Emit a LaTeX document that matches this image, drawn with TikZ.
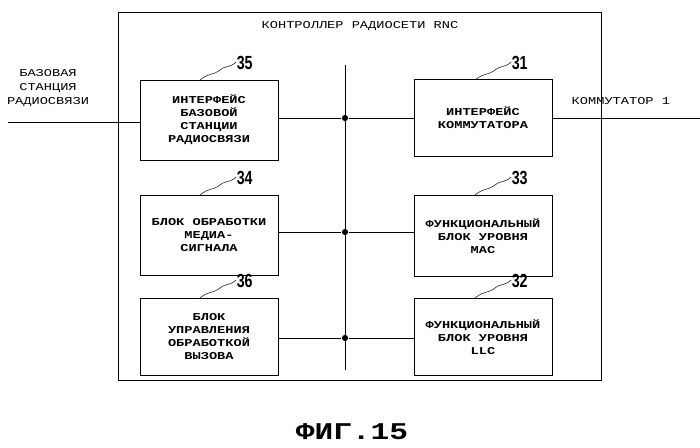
\documentclass[tikz,border=0pt]{standalone}
\usepackage{fontspec}
\setmainfont[FakeStretch=1.3]{Liberation Mono}
\newfontfamily\numfont{Liberation Sans}
\begin{document}
\begin{tikzpicture}[x=1pt, y=-1pt, line width=0.8pt,
    blok/.style={draw, minimum width=138pt, align=center, inner sep=1pt, font=\fontsize{10.5}{13}\selectfont\bfseries},
    bus/.style={circle, fill, inner sep=2.2pt},
    nomer/.style={font=\numfont\fontsize{19}{19}\selectfont\bfseries, anchor=west, xscale=0.75}]
    \useasboundingbox (0,0) rectangle (700,447);

    % Rahmen
    \draw (118,12) rectangle (601,380);
    \node[font=\fontsize{10.5}{13}\selectfont] (titel) at (360,26) {КОНТРОЛЛЕР РАДИОСЕТИ RNC};

    % Bloecke links / rechts
    \node[blok, minimum height=80pt] (b35) at (209,120) {ИНТЕРФЕЙС\\БАЗОВОЙ\\СТАНЦИИ\\РАДИОСВЯЗИ};
    \node[blok, minimum height=80pt] (b34) at (209,235) {БЛОК ОБРАБОТКИ\\МЕДИА-\\СИГНАЛА};
    \node[blok, minimum height=77pt] (b36) at (209,337) {БЛОК\\УПРАВЛЕНИЯ\\ОБРАБОТКОЙ\\ВЫЗОВА};
    \node[blok, minimum height=77pt] (b31) at (483,118) {ИНТЕРФЕЙС\\КОММУТАТОРА};
    \node[blok, minimum height=81pt] (b33) at (483,236) {ФУНКЦИОНАЛЬНЫЙ\\БЛОК УРОВНЯ\\MAC};
    \node[blok, minimum height=77pt] (b32) at (483,337) {ФУНКЦИОНАЛЬНЫЙ\\БЛОК УРОВНЯ\\LLC};

    % Bus
    \coordinate (oben) at (345,65);
    \coordinate (unten) at (345,370);
    \draw (oben) -- (unten);
    \foreach \l/\r/\y in {b35/b31/118, b34/b33/232, b36/b32/338} {
        \node[bus] (p\l) at (345,\y) {};
        \draw (\l.east |- p\l) -- (p\l) -- (\r.west |- p\l);
    }

    % Aussen
    \coordinate (links) at (8,122);
    \coordinate (rechts) at (700,118);
    \draw (links) -- (b35.west |- links);
    \draw (b31.east |- rechts) -- (rechts);
    \node[font=\fontsize{10.5}{14}\selectfont, align=center] (bs) at (48,88) {БАЗОВАЯ\\СТАНЦИЯ\\РАДИОСВЯЗИ};
    \node[font=\fontsize{10.5}{13}\selectfont, anchor=west] (km) at (568,101) {КОММУТАТОР 1};

    % Bezugszeichen
    \foreach \n/\x/\y in {35/200/80, 34/200/195, 36/200/298, 31/475/80, 33/475/195, 32/475/298} {
        \draw[line width=0.5pt] (\x,\y) .. controls (\x+10,\y-8) and (\x+12,\y-4) .. (\x+20,\y-10)
            .. controls (\x+26,\y-15) and (\x+30,\y-12) .. (\x+36,\y-18);
        \node[nomer] (n\n) at (\x+34,\y-17) {\n};
    }

    % Unterschrift
    \node[font=\fontsize{24}{24}\selectfont\bfseries] (fig) at (352,432) {ФИГ.15};
\end{tikzpicture}
\end{document}
